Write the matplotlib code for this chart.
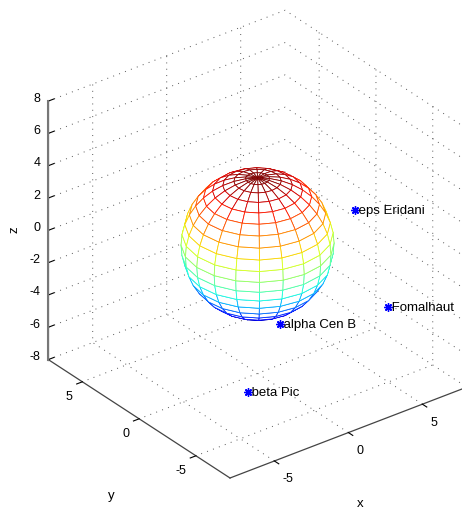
import numpy as np
import matplotlib
matplotlib.use('Agg')
import matplotlib.pyplot as plt
from mpl_toolkits.mplot3d import proj3d

plt.rcParams['font.family'] = ['Liberation Sans', 'DejaVu Sans']
plt.rcParams['font.size'] = 9
plt.rcParams['axes.unicode_minus'] = False
plt.rcParams['grid.color'] = '#555555'
plt.rcParams['grid.linewidth'] = 0.7

# star positions (x, y, z)
star_names = ['alpha Cen B', 'eps Eridani', 'Fomalhaut', 'beta Pic']
star_x = [0.0, 4.3, 5.7, -3.7]
star_y = [-2.0, -3.0, -4.1, -4.0]
star_z = [-4.0, 2.0, -4.0, -6.0]

sphere_radius = 4.1
sphere_n = 20

lims = (-8, 8)
xy_ticks = [-5, 0, 5]
z_ticks = [-8, -6, -4, -2, 0, 2, 4, 6, 8]

# matlab style sphere(n)
theta = np.linspace(-np.pi, np.pi, sphere_n + 1)
phi = np.linspace(-np.pi / 2, np.pi / 2, sphere_n + 1)
X = sphere_radius * np.outer(np.cos(phi), np.cos(theta))
Y = sphere_radius * np.outer(np.cos(phi), np.sin(theta))
Z = sphere_radius * np.outer(np.sin(phi), np.ones_like(theta))

W, H = 462, 510
fig = plt.figure(figsize=(W / 100, H / 100), dpi=100)
ax = fig.add_axes([0, 0, 1, 1], projection='3d')
ax.set_proj_type('ortho')
ax.view_init(elev=30, azim=-127.5)

# mesh: white faces (hidden lines), edges coloured by height
surf = ax.plot_surface(X, Y, Z, rstride=1, cstride=1, color='white',
                       shade=False, linewidth=0.6, antialiased=True)
zc = (Z[:-1, :-1] + Z[1:, 1:] + Z[:-1, 1:] + Z[1:, :-1]) / 4
norm = plt.Normalize(-sphere_radius, sphere_radius)
surf.set_edgecolor(plt.cm.jet(norm(zc.ravel())))

ax.plot(star_x, star_y, star_z, ls='none', marker=(8, 2, 0), color='blue',
        ms=6, mew=1)
for name, x, y, z in zip(star_names, star_x, star_y, star_z):
    ax.text(x, y, z, ' ' + name, ha='left', va='center', fontsize=9.5)

ax.set_xlim(lims)
ax.set_ylim(lims)
ax.set_zlim(lims)
ax.set_xticks(xy_ticks)
ax.set_yticks(xy_ticks)
ax.set_zticks(z_ticks)
ax.tick_params(axis='x', pad=0)
ax.tick_params(axis='y', pad=-1)
ax.tick_params(axis='z', pad=-4.9)
for t in ax.get_xticklabels():
    t.set_ha('left')
    t.set_va('center')
for t in ax.get_yticklabels():
    t.set_ha('right')
    t.set_va('center')
for t in ax.get_zticklabels():
    t.set_ha('right')
    t.set_va('baseline')

for a in (ax.xaxis, ax.yaxis, ax.zaxis):
    a.set_pane_color((1, 1, 1, 0))
    a.pane.set_edgecolor((1, 1, 1, 0))
    a.line.set_color('#444444')
    a.line.set_linewidth(0.9)
    a._axinfo['grid']['linestyle'] = (0, (1, 5.5))
    a._axinfo['tick']['inward_factor'] = 0.3
    a._axinfo['tick']['outward_factor'] = 0.0
ax.zaxis._axinfo['tick']['inward_factor'] = 0.0
ax.zaxis._axinfo['tick']['outward_factor'] = 0.3
ax.zaxis.line.set_color('#777777')

# z axis line on the left corner, as matlab draws it
ax.plot([lims[0], lims[0]], [lims[1], lims[1]], [lims[0], lims[1]],
        color='#777777', lw=1.5, clip_on=False, zorder=10)

fig.text(360 / W, 1 - 504 / H, 'x', ha='center', va='center', fontsize=9.5)
fig.text(111 / W, 1 - 496 / H, 'y', ha='center', va='center', fontsize=9.5)
fig.text(14 / W, 1 - 230 / H, 'z', ha='center', va='center', fontsize=9.5,
         rotation=90)

# put the box where the reference has it (pixel targets, y from top)
def to_px(x, y, z):
    xs, ys, _ = proj3d.proj_transform(x, y, z, ax.get_proj())
    return ax.transData.transform((xs, ys))

zoom = 1.0
ax.set_box_aspect((1, 1, 1), zoom=zoom)
fig.canvas.draw()
a0 = to_px(-8, 8, -8)
a1 = to_px(-8, 8, 8)
zoom *= 258.5 / np.hypot(*(a1 - a0))
ax.set_box_aspect((1, 1, 1), zoom=zoom)
fig.canvas.draw()
c = to_px(-8, -8, -8)
dx = 230 - c[0]
dy = (H - 479) - c[1]
ax.set_position([dx / W, dy / H, 1, 1])

fig.savefig('out.png', dpi=100, facecolor='white')
